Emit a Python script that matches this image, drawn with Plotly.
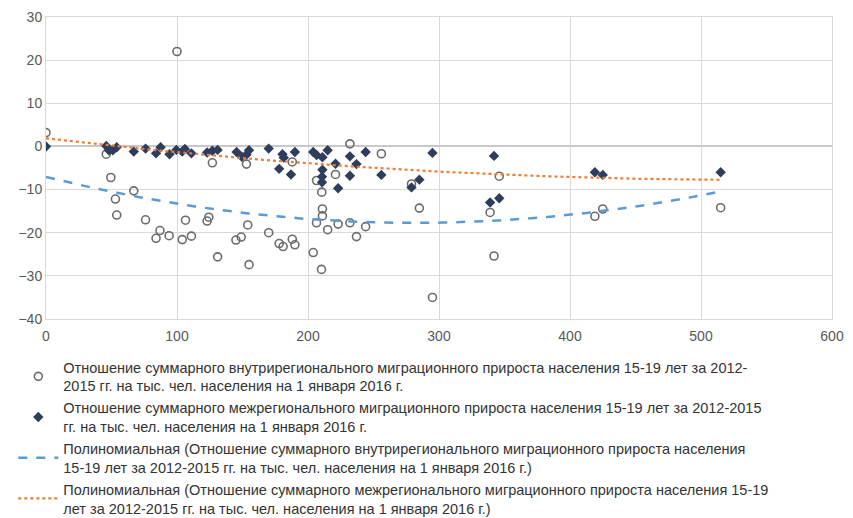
import numpy as np
import plotly.graph_objects as go

# Internal (intra-regional) migration ratio: x, y
intra_x = [0, 46, 49.5, 53, 54, 67, 76, 84, 87, 94, 100, 104, 106.5, 111, 123, 124.3, 127, 131,
           145, 149, 153, 154, 155, 170, 178, 181, 188, 188, 190, 204, 206.5, 206.5, 210.5, 210.3,
           211, 211, 215, 221, 223, 232, 232, 237, 244, 256, 279, 285, 295, 339, 342, 346, 419, 425, 515]
intra_y = [3.2, -1.8, -7.2, -12.2, -15.9, -10.3, -17, -21.3, -19.5, -20.7, 22, -21.6, -17.1, -20.8,
           -17.3, -16.4, -3.8, -25.6, -21.7, -21, -4.1, -18.2, -27.4, -20, -22.5, -23.2, -3.6, -21.5,
           -22.8, -24.6, -7.9, -17.7, -10.6, -28.5, -14.5, -16.1, -19.3, -6.5, -18, 0.6, -17.7, -20.9,
           -18.6, -1.7, -8.7, -14.3, -35, -15.3, -25.4, -6.9, -16.2, -14.5, -14.2]

# Inter-regional migration ratio: x, y
inter_x = [0, 46, 48, 51, 54, 67, 76, 84, 87.5, 94.3, 99.5, 104, 106, 111, 123, 127, 131, 145.5,
           149.5, 153, 155, 170, 178, 180.5, 181.5, 187, 190, 204, 206.5, 211, 211, 210.7, 210.7,
           215, 221, 223, 232, 232, 237, 244, 256, 279, 285, 295, 339, 342, 346, 419, 425, 515]
inter_y = [0, 0.1, -0.9, -0.9, -0.2, -1.2, -0.5, -1.6, -0.2, -1.8, -0.8, -1.2, -0.6, -1.6, -1.4,
           -1, -0.8, -1.3, -2.4, -1.9, -0.9, -0.5, -5.2, -1.8, -2.6, -6.5, -1.3, -1.3, -2, -2.5,
           -5.4, -7, -8.3, -0.9, -4, -9.7, -2.3, -6.8, -4.1, -1.3, -6.6, -9.5, -7.7, -1.5, -13,
           -2.2, -12, -6, -6.6, -6]

names = [
    "Отношение суммарного внутрирегионального миграционного прироста населения 15-19 лет за 2012-<br>2015 гг. на тыс. чел. населения на 1 января 2016 г.",
    "Отношение суммарного межрегионального миграционного прироста населения 15-19 лет за 2012-2015<br>гг. на тыс. чел. населения на 1 января 2016 г.",
    "Полиномиальная (Отношение суммарного внутрирегионального миграционного прироста населения<br>15-19 лет за 2012-2015 гг. на тыс. чел. населения на 1 января 2016 г.)",
    "Полиномиальная (Отношение суммарного межрегионального миграционного прироста населения 15-19<br>лет за 2012-2015 гг. на тыс. чел. населения на 1 января 2016 г.)",
]

# Polynomial (degree 2) trendlines fitted to the data, as in the source spreadsheet
def trend(xs, ys):
    c = np.polyfit(xs, ys, 2)
    tx = np.linspace(min(xs), max(xs), 200)
    return tx, np.polyval(c, tx)

tix, tiy = trend(intra_x, intra_y)
tex, tey = trend(inter_x, inter_y)

fig = go.Figure()
fig.add_trace(go.Scatter(x=intra_x, y=intra_y, mode="markers", name=names[0], legendgroup="a",
                         marker=dict(symbol="circle-open", size=8, color="#6b6b6b", line=dict(width=1.6))))
fig.add_trace(go.Scatter(x=inter_x, y=inter_y, mode="markers", name=names[1], legendgroup="b",
                         marker=dict(symbol="diamond", size=8, color="#2f3d5c")))
fig.add_trace(go.Scatter(x=tix, y=tiy, mode="lines", name=names[2], legendgroup="c",
                         line=dict(color="#5b9bd5", width=2.5, dash="dash")))
fig.add_trace(go.Scatter(x=tex, y=tey, mode="lines", name=names[3], legendgroup="d",
                         line=dict(color="#ed7d31", width=2.2, dash="dot")))

# The page body adds an 8px offset, so the figure is 8px smaller and margins are shifted
fig.update_layout(
    width=845, height=510,
    margin=dict(l=38, r=21, t=9, b=199, autoexpand=False),
    paper_bgcolor="white", plot_bgcolor="white",
    font=dict(family="Liberation Sans, Arial, sans-serif", size=13, color="#404040"),
    showlegend=True,
    legend=dict(x=-0.0416, y=-0.106, xanchor="left", yanchor="top", itemwidth=40,
                tracegroupgap=0, font=dict(size=14.5, color="#333333"), bgcolor="rgba(0,0,0,0)"),
)
fig.update_xaxes(range=[0, 600], dtick=100, showgrid=True, gridcolor="#d9d9d9", gridwidth=1,
                 zeroline=False, showline=True, linecolor="#d9d9d9", mirror=True,
                 tickfont=dict(size=14, color="#595959"), ticks="", ticklabelstandoff=4)
fig.update_yaxes(range=[-40, 30], dtick=10, showgrid=True, gridcolor="#d9d9d9", gridwidth=1,
                 zeroline=True, zerolinecolor="#c8c8c8", zerolinewidth=1.5,
                 showline=True, linecolor="#d9d9d9", mirror=True,
                 tickfont=dict(size=14, color="#595959"), ticks="")

fig.write_html("out.html")
